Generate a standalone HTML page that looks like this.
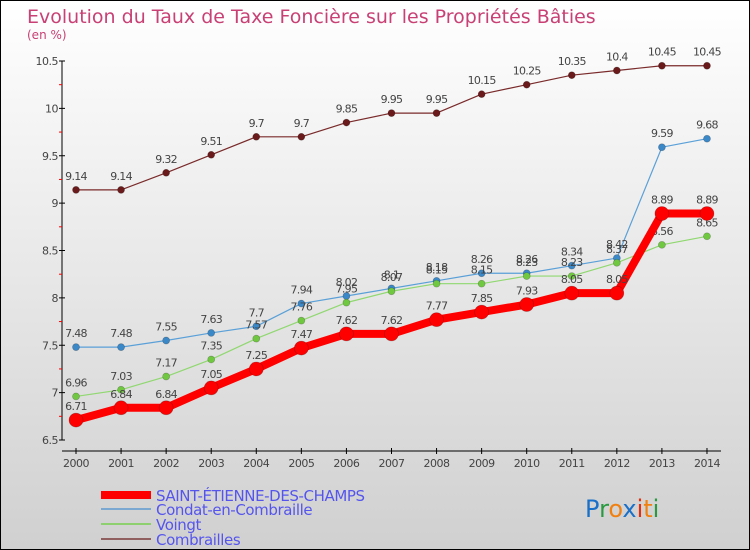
<!DOCTYPE html>
<html><head><meta charset="utf-8"><style>
body{margin:0;}
#c{width:748px;height:548px;border:1px solid #000;background:linear-gradient(#fff,#d0d0d0);position:relative;overflow:hidden;font-family:"DejaVu Sans","Liberation Sans",sans-serif;}
</style></head><body>
<div id="c">
<svg id="s" width="748" height="548" xmlns="http://www.w3.org/2000/svg">
<text x="26" y="22" font-size="19" fill="#c84074">Evolution du Taux de Taxe Foncière sur les Propriétés Bâties</text>
<text x="26" y="38" font-size="12" fill="#c84074">(en %)</text>
<g id="axes"></g><g id="series"></g>
<g>
<line x1="100" y1="494" x2="150" y2="494" stroke="#f00" stroke-width="8"/>
<text x="155" y="500" font-size="15" fill="#5555ee" letter-spacing="-0.4">SAINT-ÉTIENNE-DES-CHAMPS</text>
<line x1="100" y1="508" x2="150" y2="508" stroke="#7aa8d0" stroke-width="2"/>
<text x="155" y="514" font-size="15" fill="#5555ee" letter-spacing="-0.4">Condat-en-Combraille</text>
<line x1="100" y1="523" x2="150" y2="523" stroke="#8ed070" stroke-width="2"/>
<text x="155" y="529" font-size="15" fill="#5555ee" letter-spacing="-0.4">Voingt</text>
<line x1="100" y1="538" x2="150" y2="538" stroke="#906060" stroke-width="2"/>
<text x="155" y="544" font-size="15" fill="#5555ee" letter-spacing="-0.4">Combrailles</text>
</g>
<g font-size="24" font-family="DejaVu Sans, sans-serif">
<text x="584" y="516"><tspan fill="#1a70c8">P</tspan><tspan fill="#2a9a40">r</tspan><tspan fill="#f08010">o</tspan><tspan fill="#1a70c8">x</tspan><tspan fill="#e03010">i</tspan><tspan fill="#f08010">t</tspan><tspan fill="#2a9a40">i</tspan></text>
</g>
</svg></div>
<script>
const years=[2000,2001,2002,2003,2004,2005,2006,2007,2008,2009,2010,2011,2012,2013,2014];
const saint=[6.71,6.84,6.84,7.05,7.25,7.47,7.62,7.62,7.77,7.85,7.93,8.05,8.05,8.89,8.89];
const condat=[7.48,7.48,7.55,7.63,7.7,7.94,8.02,8.1,8.18,8.26,8.26,8.34,8.42,9.59,9.68];
const voingt=[6.96,7.03,7.17,7.35,7.57,7.76,7.95,8.07,8.15,8.15,8.23,8.23,8.37,8.56,8.65];
const combr=[9.14,9.14,9.32,9.51,9.7,9.7,9.85,9.95,9.95,10.15,10.25,10.35,10.4,10.45,10.45];
const yTicks=[6.5,7,7.5,8,8.5,9,9.5,10,10.5];
const NS='http://www.w3.org/2000/svg';
const X=i=>75+i*45.07, Y=v=>60+(10.5-v)*94.75;
function mk(t,a,p){const e=document.createElementNS(NS,t);for(const k in a)e.setAttribute(k,a[k]);p.appendChild(e);return e;}
const ax=document.getElementById('axes'), sg=document.getElementById('series');
let e=mk('line',{x1:61,y1:60,x2:61,y2:439,stroke:'#000','stroke-width':1},ax);


e=mk('line',{x1:61,y1:450,x2:720,y2:450,stroke:'#000','stroke-width':1},ax);


yTicks.forEach((v,i)=>{
 mk('line',{x1:58,y1:Y(v),x2:64,y2:Y(v),stroke:'#000'},ax);
 if(i<yTicks.length-1) mk('line',{x1:58,y1:Y(v+0.25),x2:61,y2:Y(v+0.25),stroke:'#f00'},ax);
 const t=mk('text',{x:57,y:Y(v)+4,'font-size':11,fill:'#444','text-anchor':'end','letter-spacing':'-0.5'},ax);
 t.textContent=String(v);
 
 
});
years.forEach((y,i)=>{
 mk('line',{x1:X(i),y1:447,x2:X(i),y2:453,stroke:'#000'},ax);
 const t=mk('text',{x:X(i),y:466,'font-size':11,fill:'#444','text-anchor':'middle','letter-spacing':'-0.5'},ax);
 t.textContent=String(y);
 
 
});
function series(d,color,w,r,name,dotc){
 const g=mk('g',{},sg);
 
 
 const l=mk('polyline',{points:d.map((v,i)=>X(i)+','+Y(v)).join(' '),fill:'none',stroke:color,'stroke-width':w,'stroke-linejoin':'round'},g);
 
 
 d.forEach((v,i)=>{
  const c=mk('circle',{cx:X(i),cy:Y(v),r:r,fill:dotc,stroke:'rgba(0,0,0,0.25)','stroke-width':0.7},g);
  
  
  const t=mk('text',{x:X(i),y:Y(v)-10,'font-size':11,fill:'#444','text-anchor':'middle','letter-spacing':'-0.7'},g);
  t.textContent=String(v);
  
  
 });
}
series(combr,'#7a2a2a',1.2,3.5,'combrailles','#6a1a1a');
series(condat,'#5aa0d8',1.2,3.5,'condat','#3a88c8');
series(voingt,'#90d870',1.2,3.5,'voingt','#70c840');
series(saint,'#f00',8,7,'saint-etienne','#f00');
</script></body></html>
